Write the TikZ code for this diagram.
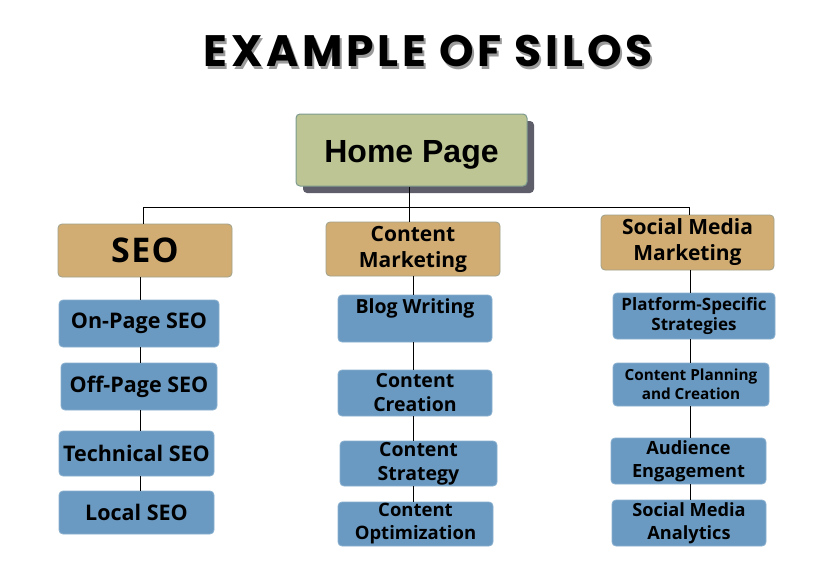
\documentclass[tikz,border=0pt]{standalone}
\usepackage{fontspec}
\setmainfont{Open Sans}
\newfontfamily\titlefont{Poppins}[LetterSpace=8.5]
\newfontfamily\seofont{Open Sans}[LetterSpace=4]
\newfontfamily\homefont{Liberation Sans}
\definecolor{homefill}{HTML}{BCC593}
\definecolor{homeline}{HTML}{7E9A8E}
\definecolor{shadowc}{HTML}{5E5E6A}
\definecolor{catfill}{HTML}{D2AD73}
\definecolor{catline}{HTML}{9FA08A}
\definecolor{subfill}{HTML}{6A9AC2}
\definecolor{subline}{HTML}{8AB0D0}
\definecolor{titleshadow}{HTML}{9A9A9A}
\tikzset{
  base/.style={rounded corners=4pt, inner sep=0pt, align=center, font=\bfseries, text=black},
  homebox/.style={base, fill=homefill, draw=homeline, line width=1pt, font=\homefont\bfseries\fontsize{32}{36}\selectfont},
  catbox/.style={base, fill=catfill, draw=catline, line width=0.8pt},
  cattwo/.style={catbox, font=\bfseries\fontsize{21}{26}\selectfont},
  subbox/.style={base, fill=subfill, draw=subline, line width=0.8pt},
  seosub/.style={subbox, font=\bfseries\fontsize{21.5}{24}\selectfont},
  contsub/.style={subbox, font=\bfseries\fontsize{19.5}{24}\selectfont},
  socsub/.style={subbox, font=\bfseries\fontsize{18.2}{23}\selectfont},
  conn/.style={draw=black, line width=0.9pt},
}
\begin{document}
\begin{tikzpicture}[x=1pt,y=-1pt]
\useasboundingbox[fill=white] (0,0) rectangle (831,571);
% title
\node[text=titleshadow, font=\titlefont\bfseries\fontsize{44}{48}\selectfont] (tshadow) at (430,54) {EXAMPLE OF SILOS};
\node[text=black, font=\titlefont\bfseries\fontsize{44}{48}\selectfont] (title) at (428,51) {EXAMPLE OF SILOS};
% home
\fill[shadowc, rounded corners=4pt] (303,121) rectangle (534,193);
\node[homebox, minimum width=231pt, minimum height=72pt] (home) at (411.5,150) {\smash{\raisebox{-12pt}{Home Page}}};
% bus
\coordinate (busL) at (143,207);
\coordinate (busM) at (409,207);
\coordinate (busR) at (689,207);
% categories
\node[catbox, minimum width=174pt, minimum height=53pt, font=\seofont\bfseries\fontsize{34}{36}\selectfont] (seo) at (145,250.5) {SEO};
\node[cattwo, minimum width=174pt, minimum height=54pt] (cm) at (413,249) {Content\\Marketing};
\node[cattwo, minimum width=173pt, minimum height=55pt] (smm) at (687.5,242.5) {Social Media\\Marketing};
% SEO column
\node[seosub, minimum width=160pt, minimum height=47pt] (onpage) at (139,323.5) {On-Page SEO};
\node[seosub, minimum width=156pt, minimum height=47pt] (offpage) at (139,386.5) {Off-Page SEO};
\node[seosub, minimum width=155pt, minimum height=45pt] (tech) at (136.5,453.5) {Technical SEO};
\node[seosub, minimum width=155pt, minimum height=43pt] (local) at (136.5,512.5) {Local SEO};
% Content column
\node[contsub, minimum width=154pt, minimum height=47pt] (blog) at (415,318.5) {Blog Writing\\\mbox{}};
\node[contsub, minimum width=154pt, minimum height=46pt] (creation) at (415,393) {Content\\Creation};
\node[contsub, minimum width=157pt, minimum height=45pt] (strategy) at (418.5,463.5) {Content\\Strategy};
\node[contsub, minimum width=155pt, minimum height=44pt, font=\bfseries\fontsize{18.5}{23}\selectfont] (optim) at (415.5,524) {Content\\Optimization};
% Social column
\node[subbox, minimum width=162pt, minimum height=46pt, font=\bfseries\fontsize{17}{20}\selectfont] (platform) at (694,316) {Platform-Specific\\Strategies};
\node[subbox, minimum width=156pt, minimum height=43pt, font=\bfseries\fontsize{15.3}{19}\selectfont] (planning) at (691,384.5) {Content Planning\\and Creation};
\node[socsub, minimum width=155pt, minimum height=46pt] (audience) at (688.5,461) {Audience\\Engagement};
\node[socsub, minimum width=154pt, minimum height=46pt] (analytics) at (689,523) {Social Media\\Analytics};
% connectors
\draw[conn] (home.south -| busM) -- (busM);
\draw[conn] (busL) -- (busR);
\draw[conn] (busL) -- (busL |- seo.north);
\draw[conn] (busM) -- (busM |- cm.north);
\draw[conn] (busR) -- (busR |- smm.north);
\coordinate (c1) at (140,0);
\coordinate (c2) at (413,0);
\coordinate (c3) at (690,0);
\draw[conn] (seo.south -| c1) -- (onpage.north -| c1);
\draw[conn] (onpage.south -| c1) -- (offpage.north -| c1);
\draw[conn] (offpage.south -| c1) -- (tech.north -| c1);
\draw[conn] (tech.south -| c1) -- (local.north -| c1);
\draw[conn] (cm.south -| c2) -- (blog.north -| c2);
\draw[conn] (blog.south -| c2) -- (creation.north -| c2);
\draw[conn] (creation.south -| c2) -- (strategy.north -| c2);
\draw[conn] (strategy.south -| c2) -- (optim.north -| c2);
\draw[conn] (smm.south -| c3) -- (platform.north -| c3);
\draw[conn] (platform.south -| c3) -- (planning.north -| c3);
\draw[conn] (planning.south -| c3) -- (audience.north -| c3);
\draw[conn] (audience.south -| c3) -- (analytics.north -| c3);
\end{tikzpicture}
\end{document}
